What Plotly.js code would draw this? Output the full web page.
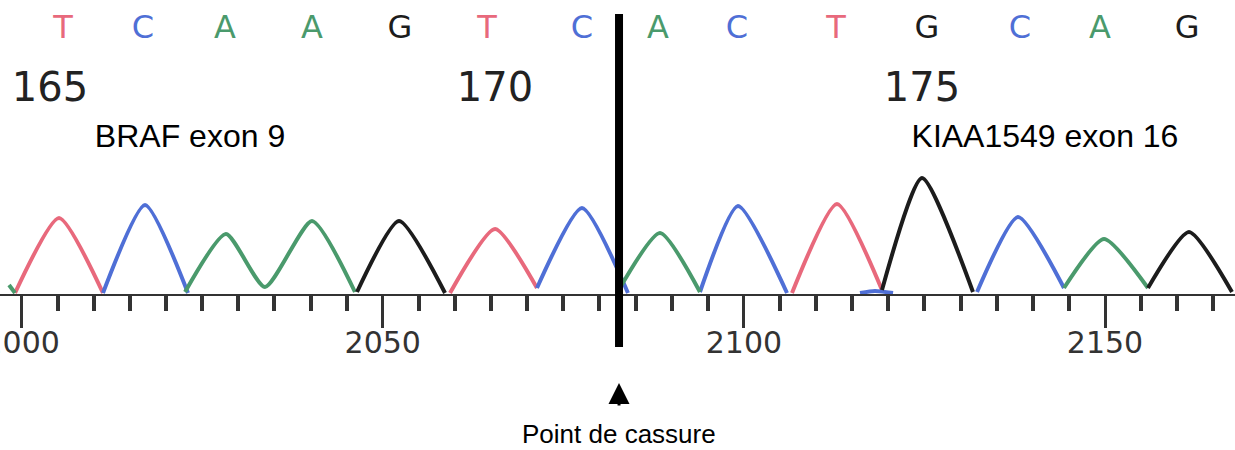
<!DOCTYPE html>
<html>
<head>
<meta charset="utf-8">
<script src="https://cdn.plot.ly/plotly-3.0.1.min.js"></script>
<style>html,body{margin:0;padding:0;background:#fff;}#chart{width:1235px;height:450px;}</style>
</head>
<body>
<div id="chart"></div>
<script>
// ---- data (x = scan position, y = signal height) ----
const tX = [1999.08, 2005.17, 2011.26, null, 2059.31, 2065.54, 2071.35, null, 2106.66, 2112.89, 2119.12];
const tY = [1, 76, 1, null, 1, 65, 6, null, 1, 90, 4];

const cX = [2011.26, 2017.08, 2023.03, null, 2071.35, 2077.58, 2083.95, null, 2093.92, 2099.18, 2105.97, null, 2116.08, 2118.15, 2120.65, null, 2132.28, 2137.96, 2144.32];
const cY = [1, 89, 1, null, 6, 86, 1, null, 2, 88, 1, null, 1, 3, 1, null, 2, 77, 6];

const aX = [1998.25, 1999.08, null, 2022.62, 2028.29, 2033.69, 2040.20, 2046.15, null, 2082.43, 2088.38, 2093.92, null, 2144.32, 2149.86, 2155.95];
const aY = [9, 1, null, 2, 60, 7, 73, 2, null, 1, 61, 2, null, 6, 55, 6];

const gX = [2046.43, 2052.25, 2058.62, null, 2119.12, 2124.66, 2131.72, null, 2155.95, 2161.63, 2167.58];
const gY = [2, 73, 1, null, 4, 116, 2, null, 6, 62, 2];

const baseCalls = ["T", "C", "A", "A", "G", "T", "C", "A", "C", "T", "G", "C", "A", "G"];
const baseCallX = [2005.72, 2016.80, 2028.15, 2040.20, 2052.38, 2064.43, 2077.58, 2088.11, 2099.05, 2112.76, 2125.35, 2138.23, 2149.31, 2161.36];

const baseNumbers = ["165", "170", "175"];
const baseNumberX = [2003.92, 2065.54, 2124.66];

const geneLabels = ["BRAF exon 9", "KIAA1549 exon 16"];
const geneLabelX = [2023.31, 2141.69];

const breakPoint = 2082.71;
const breakLabel = "Point de cassure";

// ---- styles ----
const colours = {T: "#e8697c", C: "#4f6fd6", A: "#4a9a6c", G: "#1c1c1c"};
const lineW = 4;

function channel(x, y, col) {
  return {x: x, y: y, type: "scatter", mode: "lines", connectgaps: false,
          line: {color: col, width: lineW, shape: "spline", smoothing: 0.6},
          hoverinfo: "skip"};
}

const traces = [
  channel(tX, tY, colours.T),
  channel(cX, cY, colours.C),
  channel(aX, aY, colours.A),
  channel(gX, gY, colours.G),
  {x: baseCallX, y: baseCallX.map(() => 264), text: baseCalls, type: "scatter", mode: "text",
   cliponaxis: false, textposition: "middle center",
   textfont: {family: "DejaVu Sans", size: 32, color: baseCalls.map(b => colours[b])}, hoverinfo: "skip"},
  {x: baseNumberX, y: baseNumberX.map(() => 203), text: baseNumbers, type: "scatter", mode: "text",
   cliponaxis: false, textposition: "middle center",
   textfont: {family: "DejaVu Sans", size: 40, color: "#222"}, hoverinfo: "skip"},
  {x: geneLabelX, y: geneLabelX.map(() => 155), text: geneLabels, type: "scatter", mode: "text",
   cliponaxis: false, textposition: "middle center",
   textfont: {family: "Liberation Sans, Arial, sans-serif", size: 32, color: "#000"}, hoverinfo: "skip"}
];

const plotH = 294;
const layout = {
  width: 1235, height: 450,
  margin: {l: 0, r: 0, t: 0, b: 450 - plotH, pad: 0},
  paper_bgcolor: "#fff", plot_bgcolor: "#fff",
  showlegend: false, hovermode: false,
  xaxis: {
    range: [1997, 2168], showgrid: false, zeroline: false,
    showline: true, linecolor: "#333", linewidth: 2,
    ticks: "outside", tick0: 2000, dtick: 50, ticklen: 32, tickwidth: 3, tickcolor: "#333",
    ticklabeloverflow: "allow", ticklabelstandoff: -11,
    tickfont: {family: "DejaVu Sans", size: 30, color: "#333"},
    minor: {ticks: "outside", tick0: 2000, dtick: 5, ticklen: 15, tickwidth: 4, tickcolor: "#333", showgrid: false}
  },
  yaxis: {range: [0, plotH], visible: false, showgrid: false, zeroline: false, fixedrange: true},
  shapes: [
    {type: "line", xref: "x", yref: "paper", x0: breakPoint, x1: breakPoint,
     y0: (plotH - 347) / plotH, y1: (plotH - 14) / plotH,
     line: {color: "#000", width: 8}, layer: "above"}
  ],
  annotations: [
    {xref: "x", yref: "paper", x: breakPoint, y: (plotH - 383) / plotH, ax: 0, ay: 24,
     text: "", showarrow: true, arrowhead: 2, arrowsize: 1.4, arrowwidth: 3, arrowcolor: "#000"},
    {xref: "x", yref: "paper", x: breakPoint, y: (plotH - 434) / plotH, text: breakLabel,
     showarrow: false, xanchor: "center", yanchor: "middle",
     font: {family: "Liberation Sans, Arial, sans-serif", size: 26, color: "#000"}}
  ]
};

Plotly.newPlot("chart", traces, layout, {displayModeBar: false, staticPlot: true});
</script>
</body>
</html>
